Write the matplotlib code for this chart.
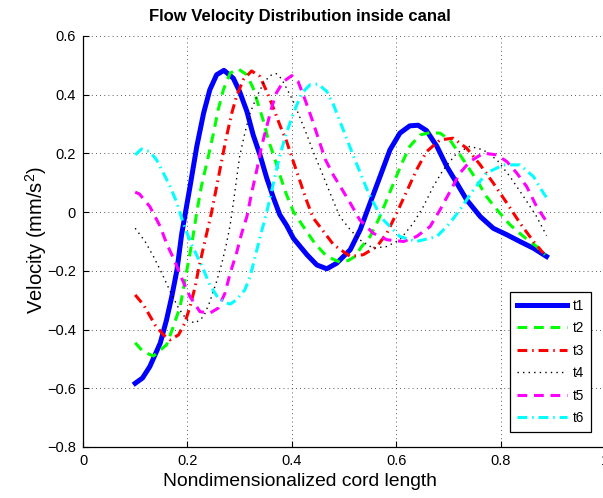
import matplotlib
matplotlib.use('Agg')
import matplotlib.pyplot as plt

plt.rcParams['font.family'] = ['Liberation Sans', 'DejaVu Sans']
plt.rcParams['mathtext.fontset'] = 'custom'
plt.rcParams['mathtext.rm'] = 'Liberation Sans'

# values
t1_x = [0.100, 0.114, 0.128, 0.148, 0.160, 0.170, 0.180, 0.189, 0.205, 0.218, 0.231, 0.243,
        0.256, 0.270, 0.288, 0.300, 0.314, 0.326, 0.339, 0.352, 0.365, 0.377, 0.390, 0.403,
        0.429, 0.448, 0.467, 0.486, 0.512, 0.531, 0.550, 0.569, 0.588, 0.607, 0.626, 0.642,
        0.658, 0.678, 0.697, 0.716, 0.735, 0.761, 0.786, 0.812, 0.837, 0.863, 0.888]
t1_v = [-0.583, -0.565, -0.526, -0.446, -0.367, -0.288, -0.197, -0.075, 0.087, 0.224, 0.337, 0.417,
        0.468, 0.483, 0.456, 0.411, 0.343, 0.263, 0.195, 0.116, 0.048, -0.009, -0.045, -0.089,
        -0.145, -0.180, -0.193, -0.174, -0.128, -0.060, 0.031, 0.121, 0.212, 0.269, 0.294, 0.296,
        0.278, 0.224, 0.155, 0.099, 0.042, -0.015, -0.055, -0.077, -0.100, -0.123, -0.151]

t2_x = [0.100, 0.115, 0.135, 0.160, 0.173, 0.186, 0.192, 0.199, 0.205, 0.211, 0.218, 0.227,
        0.240, 0.250, 0.259, 0.269, 0.282, 0.298, 0.314, 0.326, 0.336, 0.346, 0.355, 0.365,
        0.377, 0.390, 0.403, 0.422, 0.444, 0.467, 0.492, 0.508, 0.521, 0.534, 0.550, 0.566,
        0.582, 0.595, 0.611, 0.626, 0.646, 0.665, 0.684, 0.703, 0.716, 0.735, 0.754, 0.773,
        0.796, 0.818, 0.844, 0.869, 0.885]
t2_v = [-0.445, -0.475, -0.490, -0.452, -0.390, -0.322, -0.265, -0.197, -0.140, -0.080, 0.000, 0.090,
        0.189, 0.269, 0.349, 0.417, 0.474, 0.487, 0.468, 0.422, 0.365, 0.309, 0.246, 0.195,
        0.127, 0.059, 0.002, -0.049, -0.106, -0.151, -0.170, -0.165, -0.151, -0.117, -0.083, -0.026,
        0.042, 0.099, 0.167, 0.224, 0.263, 0.271, 0.269, 0.246, 0.212, 0.161, 0.110, 0.053,
        0.002, -0.043, -0.083, -0.117, -0.145]

t3_x = [0.100, 0.116, 0.138, 0.154, 0.167, 0.183, 0.195, 0.205, 0.215, 0.221, 0.229, 0.237,
        0.246, 0.256, 0.266, 0.275, 0.285, 0.294, 0.307, 0.323, 0.339, 0.352, 0.365, 0.377,
        0.390, 0.403, 0.416, 0.429, 0.441, 0.451, 0.480, 0.512, 0.537, 0.563, 0.582, 0.601,
        0.620, 0.639, 0.658, 0.684, 0.709, 0.735, 0.761, 0.786, 0.812, 0.837, 0.863, 0.882]
t3_v = [-0.282, -0.316, -0.384, -0.418, -0.435, -0.418, -0.378, -0.322, -0.253, -0.197, -0.134, -0.072,
        -0.003, 0.087, 0.178, 0.258, 0.337, 0.394, 0.451, 0.481, 0.462, 0.411, 0.354, 0.297,
        0.241, 0.172, 0.104, 0.036, -0.020, -0.043, -0.111, -0.151, -0.145, -0.117, -0.072, -0.003,
        0.070, 0.144, 0.206, 0.246, 0.252, 0.218, 0.161, 0.099, 0.031, -0.037, -0.100, -0.140]

t4_x = [0.100, 0.119, 0.135, 0.151, 0.167, 0.183, 0.199, 0.215, 0.231, 0.243, 0.256, 0.266,
        0.275, 0.282, 0.288, 0.294, 0.300, 0.310, 0.320, 0.333, 0.346, 0.358, 0.370, 0.380,
        0.390, 0.403, 0.416, 0.429, 0.441, 0.454, 0.467, 0.480, 0.492, 0.512, 0.530, 0.556,
        0.582, 0.607, 0.633, 0.652, 0.671, 0.690, 0.716, 0.741, 0.767, 0.793, 0.818, 0.844,
        0.869, 0.888]
t4_v = [-0.055, -0.100, -0.151, -0.208, -0.270, -0.327, -0.367, -0.378, -0.356, -0.305, -0.236, -0.174,
        -0.106, -0.043, 0.031, 0.110, 0.189, 0.269, 0.337, 0.394, 0.440, 0.465, 0.472, 0.455,
        0.422, 0.377, 0.320, 0.263, 0.206, 0.150, 0.093, 0.036, -0.015, -0.060, -0.094, -0.123,
        -0.117, -0.094, -0.037, 0.019, 0.087, 0.144, 0.201, 0.224, 0.212, 0.178, 0.121, 0.053,
        -0.015, -0.080]

t5_x = [0.100, 0.108, 0.128, 0.148, 0.160, 0.176, 0.189, 0.205, 0.224, 0.243, 0.259, 0.272,
        0.282, 0.294, 0.304, 0.314, 0.323, 0.333, 0.342, 0.352, 0.362, 0.371, 0.384, 0.400,
        0.412, 0.425, 0.440, 0.464, 0.480, 0.492, 0.512, 0.530, 0.556, 0.582, 0.614, 0.639,
        0.665, 0.684, 0.703, 0.722, 0.741, 0.767, 0.793, 0.812, 0.831, 0.850, 0.869, 0.888]
t5_v = [0.068, 0.062, 0.019, -0.049, -0.106, -0.168, -0.225, -0.288, -0.339, -0.344, -0.327, -0.276,
        -0.208, -0.140, -0.072, -0.015, 0.065, 0.144, 0.224, 0.292, 0.360, 0.408, 0.445, 0.465,
        0.445, 0.385, 0.310, 0.180, 0.125, 0.090, 0.031, -0.026, -0.072, -0.094, -0.100, -0.083,
        -0.049, 0.008, 0.070, 0.133, 0.172, 0.201, 0.195, 0.172, 0.133, 0.087, 0.019, -0.032]

t6_x = [0.100, 0.112, 0.128, 0.141, 0.154, 0.167, 0.180, 0.192, 0.208, 0.227, 0.243, 0.259,
        0.275, 0.282, 0.294, 0.310, 0.320, 0.330, 0.340, 0.352, 0.365, 0.376, 0.388, 0.403,
        0.419, 0.435, 0.451, 0.467, 0.480, 0.496, 0.521, 0.547, 0.572, 0.607, 0.639, 0.678,
        0.703, 0.722, 0.748, 0.773, 0.805, 0.837, 0.863, 0.882, 0.888]
t6_v = [0.195, 0.215, 0.206, 0.178, 0.133, 0.087, 0.031, -0.037, -0.111, -0.180, -0.248, -0.293,
        -0.310, -0.313, -0.299, -0.265, -0.220, -0.150, -0.080, 0.000, 0.100, 0.185, 0.260, 0.337,
        0.405, 0.434, 0.436, 0.411, 0.365, 0.292, 0.178, 0.065, -0.020, -0.083, -0.100, -0.083,
        -0.037, 0.008, 0.076, 0.133, 0.161, 0.161, 0.121, 0.065, 0.050]

labels = ['t1', 't2', 't3', 't4', 't5', 't6']
x_ticks = [0, 0.2, 0.4, 0.6, 0.8, 1.0]
x_ticklabels = ['0', '0.2', '0.4', '0.6', '0.8', '1']
y_ticks = [-0.8, -0.6, -0.4, -0.2, 0, 0.2, 0.4, 0.6]
y_ticklabels = ['\u22120.8', '\u22120.6', '\u22120.4', '\u22120.2', '0', '0.2', '0.4', '0.6']

fig = plt.figure(figsize=(6.03, 4.98), dpi=100)
ax = fig.add_axes([83 / 603, 51 / 498, 522 / 603, 411 / 498])

ax.plot(t1_x, t1_v, color='#0000ff', lw=3.6, label=labels[0])
ax.plot(t2_x, t2_v, color='#00ff00', lw=2.2, dashes=(3.2, 2.2), label=labels[1])
ax.plot(t3_x, t3_v, color='#ff0000', lw=2.2, dashes=(3.2, 1.6, 0.5, 1.6), label=labels[2])
ax.plot(t4_x, t4_v, color='black', lw=1.0, dashes=(1, 3), label=labels[3])
ax.plot(t5_x, t5_v, color='#ff00ff', lw=2.2, dashes=(3.2, 2.2), label=labels[4])
ax.plot(t6_x, t6_v, color='#00ffff', lw=2.2, dashes=(3.2, 1.6, 0.5, 1.6), label=labels[5])

ax.set_xlim(0, 1)
ax.set_ylim(-0.8, 0.6)
ax.set_xticks(x_ticks)
ax.set_xticklabels(x_ticklabels)
ax.set_yticks(y_ticks)
ax.set_yticklabels(y_ticklabels)
ax.tick_params(direction='in', length=4, width=0.8, labelsize=10.5, pad=5)
ax.grid(True, color='0.15', lw=0.6, dashes=(1, 4))
ax.spines['top'].set_visible(False)
ax.spines['right'].set_visible(False)
for s in ['left', 'bottom']:
    ax.spines[s].set_linewidth(0.9)

leg = ax.legend(loc='upper left', bbox_to_anchor=((510 - 83) / 522, (447 - 292) / 411),
                borderaxespad=0, fontsize=9.8, handlelength=3.7, labelspacing=0.62,
                fancybox=False, framealpha=1, edgecolor='black', handletextpad=0.4,
                borderpad=0.5)
leg.get_frame().set_linewidth(0.9)

fig.text(300 / 603, 1 - 17 / 498, 'Flow Velocity Distribution inside canal',
         ha='center', va='center', fontsize=12, fontweight='bold')
fig.text(300 / 603, 1 - 481 / 498, 'Nondimensionalized cord length',
         ha='center', va='center', fontsize=13.9)
fig.text(36 / 603, 1 - 240 / 498, 'Velocity (mm/s$\\mathregular{^2}$)',
         ha='center', va='center', rotation=90, fontsize=14.5)

fig.savefig('out.png', dpi=100)
